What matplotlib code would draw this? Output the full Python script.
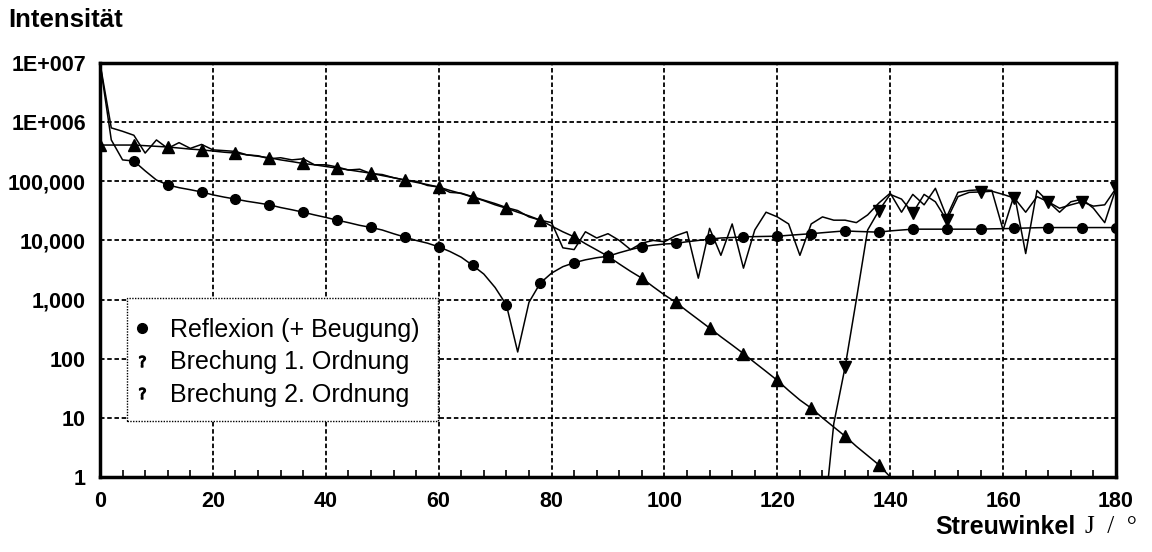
import numpy as np
import matplotlib.pyplot as plt
from matplotlib.ticker import FixedLocator, MultipleLocator, NullLocator
from matplotlib.lines import Line2D
from matplotlib.patches import Rectangle

plt.rcParams['font.family'] = ['Liberation Sans', 'DejaVu Sans']

#angles in degree, 2 degree steps
ang = np.arange(0, 182, 2)

#reflexion (+ Beugung), circles every 6 degree
refl = [1e7, 5.0e5, 2.3e5, 2.2e5, 1.5e5, 1.05e5, 8.7e4, 7.8e4, 7.2e4, 6.6e4,
        5.9e4, 5.4e4, 5.0e4, 4.6e4, 4.3e4, 4.0e4, 3.6e4, 3.3e4, 3.0e4, 2.7e4,
        2.45e4, 2.2e4, 2.0e4, 1.8e4, 1.66e4, 1.5e4, 1.3e4, 1.14e4, 1.0e4, 9.0e3,
        7.8e3, 6.5e3, 5.2e3, 3.8e3, 2.7e3, 1.6e3, 8.1e2, 1.3e2, 9.0e2, 1.9e3,
        2.8e3, 3.6e3, 4.2e3, 4.7e3, 5.1e3, 5.4e3, 6.2e3, 7.0e3, 7.8e3, 8.3e3,
        8.7e3, 8.9e3, 9.5e3, 1.0e4, 1.05e4, 1.1e4, 1.12e4, 1.15e4, 1.16e4, 1.17e4,
        1.18e4, 1.22e4, 1.26e4, 1.3e4, 1.35e4, 1.4e4, 1.45e4, 1.42e4, 1.4e4, 1.38e4,
        1.45e4, 1.5e4, 1.55e4, 1.55e4, 1.55e4, 1.55e4, 1.55e4, 1.55e4, 1.55e4, 1.57e4,
        1.58e4, 1.6e4, 1.62e4, 1.64e4, 1.65e4, 1.65e4, 1.65e4, 1.65e4, 1.65e4, 1.65e4,
        1.65e4]

#Brechung 1. Ordnung, 0..140 degree
ang_b1 = np.arange(0, 142, 2)
b1 = [4.1e5, 4.1e5, 4.1e5, 4.1e5, 4.0e5, 3.9e5, 3.8e5, 3.65e5, 3.5e5, 3.4e5,
      3.25e5, 3.1e5, 3.0e5, 2.8e5, 2.65e5, 2.5e5, 2.3e5, 2.15e5, 2.0e5, 1.9e5,
      1.78e5, 1.67e5, 1.56e5, 1.46e5, 1.37e5, 1.25e5, 1.15e5, 1.05e5, 9.6e4, 8.8e4,
      8.0e4, 7.0e4, 6.2e4, 5.4e4, 4.7e4, 4.0e4, 3.5e4, 3.0e4, 2.6e4, 2.2e4,
      1.75e4, 1.4e4, 1.15e4, 8.8e3, 6.9e3, 5.4e3, 4.0e3, 3.0e3, 2.3e3, 1.65e3,
      1.2e3, 900, 640, 460, 330, 235, 170, 122, 86, 61,
      43, 29, 20, 14.6, 10, 7, 4.9, 3.3, 2.3, 1.6,
      1.0]

#Brechung 2. Ordnung, 128..180 degree
ang_b2 = np.arange(128, 182, 2)
b2 = [0.1, 8, 72, 1000, 1.5e4, 3.2e4, 6.0e4, 5.0e4, 2.9e4, 6.0e4,
      4.5e4, 2.2e4, 5.5e4, 6.5e4, 6.6e4, 6.8e4, 6.0e4, 5.2e4, 3.0e4, 5.5e4,
      4.5e4, 3.5e4, 4.0e4, 4.5e4, 3.8e4, 4.0e4, 7.6e4]

#ray tracing total (no markers)
sim = [1e7, 8.0e5, 7.0e5, 6.0e5, 3.0e5, 5.0e5, 3.6e5, 4.5e5, 3.6e5, 4.2e5,
       3.4e5, 3.3e5, 3.2e5, 2.8e5, 2.7e5, 2.4e5, 2.5e5, 2.3e5, 2.4e5, 1.9e5,
       1.9e5, 1.75e5, 1.55e5, 1.6e5, 1.35e5, 1.3e5, 1.15e5, 1.05e5, 1.0e5, 8.5e4,
       8.0e4, 6.5e4, 6.3e4, 5.5e4, 4.8e4, 4.2e4, 3.6e4, 3.2e4, 2.5e4, 2.2e4,
       2.0e4, 7.5e3, 7.0e3, 1.4e4, 1.1e4, 1.3e4, 1.0e4, 7.0e3, 9.0e3, 1.0e4,
       9.5e3, 1.2e4, 1.4e4, 2.3e3, 1.6e4, 5.6e3, 1.9e4, 3.4e3, 1.5e4, 3.0e4,
       2.5e4, 1.9e4, 5.6e3, 1.9e4, 2.5e4, 2.2e4, 2.2e4, 2.0e4, 2.7e4, 4.3e4,
       6.3e4, 3.0e4, 6.0e4, 4.0e4, 7.6e4, 2.5e4, 6.5e4, 7.0e4, 7.2e4, 7.0e4,
       1.5e4, 6.0e4, 6.0e3, 7.0e4, 4.5e4, 3.0e4, 4.5e4, 5.0e4, 3.5e4, 2.0e4,
       7.6e4]

x_ticks = np.arange(0, 200, 20)
y_ticks = [1, 10, 100, 1e3, 1e4, 1e5, 1e6, 1e7]
y_labels = ['1', '10', '100', '1,000', '10,000', '100,000', '1E+006', '1E+007']

fig = plt.figure(figsize=(11.52, 5.52), dpi=100)
ax = fig.add_axes([100/1152, 1 - 477/552, 1016/1152, 414/552])

ax.plot(ang, sim, color='black', lw=1.1)
ax.plot(ang, refl, color='black', lw=1.1, marker='o', ms=7, markevery=(3, 3))
ax.plot(ang_b1, b1, color='black', lw=1.1, marker='^', ms=8, markevery=3)
ax.plot(ang_b2, b2, color='black', lw=1.1, marker='v', ms=8, markevery=(2, 3))

ax.set_yscale('log')
ax.set_xlim(0, 180)
ax.set_ylim(1, 1e7)
ax.xaxis.set_major_locator(FixedLocator(x_ticks))
ax.xaxis.set_minor_locator(MultipleLocator(4))
ax.yaxis.set_major_locator(FixedLocator(y_ticks))
ax.yaxis.set_minor_locator(NullLocator())
ax.set_yticklabels(y_labels)
ax.set_xticklabels([str(v) for v in x_ticks])
for lab in ax.get_xticklabels() + ax.get_yticklabels():
    lab.set_fontweight('bold')
    lab.set_fontsize(15.5)
ax.tick_params(axis='x', which='major', length=0, pad=10)
ax.tick_params(axis='y', which='major', length=0, pad=10)
ax.tick_params(axis='x', which='minor', direction='in', length=5, width=1.2, top=False)
ax.grid(True, which='major', color='black', linestyle=(0, (2.5, 1.5)), lw=1.3)
for s in ax.spines.values():
    s.set_linewidth(2.5)

#legend with '?' symbols like the original, dotted frame drawn separately
handles = [Line2D([], [], color='black', marker='o', ms=7, ls='none'),
           Line2D([], [], color='black', marker=r'$?$', ms=8, ls='none'),
           Line2D([], [], color='black', marker=r'$?$', ms=8, ls='none')]
labels = ['Reflexion (+ Beugung)', 'Brechung 1. Ordnung', 'Brechung 2. Ordnung']
ax.add_patch(Rectangle((0.0266, 0.1353), 0.306, 0.297, transform=ax.transAxes,
                       facecolor='white', edgecolor='black', lw=1.0,
                       linestyle=(0, (1, 1)), zorder=4))
leg = ax.legend(handles, labels, loc='upper left', bbox_to_anchor=(0.034, 0.384),
                borderaxespad=0, borderpad=0, fontsize=18, frameon=False,
                handlelength=0.6, handletextpad=0.8, labelspacing=0.33)
leg.set_zorder(5)

fig.text(8/1152, 1 - 20/552, 'Intensität', fontsize=18.5, fontweight='bold', va='center')
fig.text(1076/1152, 1 - 527/552, 'Streuwinkel', fontsize=18, fontweight='bold', va='center', ha='right')
fig.text(1085/1152, 1 - 527/552, 'J  /  °', fontsize=18, family=['Liberation Serif', 'DejaVu Serif'], va='center', ha='left')

fig.savefig('out.png', dpi=100)
